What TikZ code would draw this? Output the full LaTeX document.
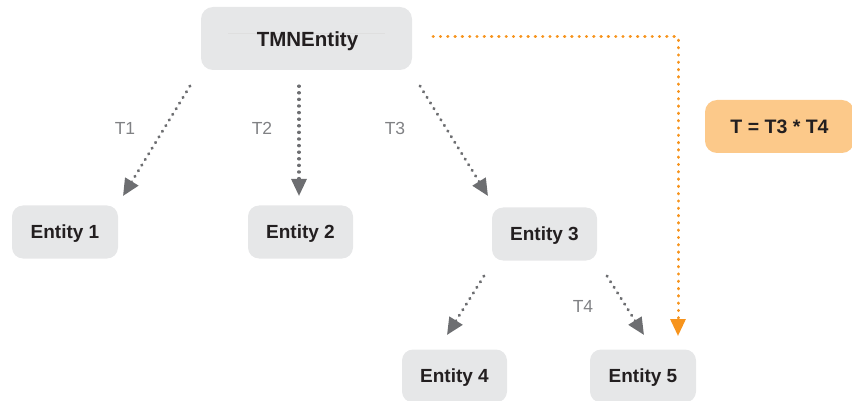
\documentclass[tikz,border=0pt]{standalone}
\usepackage{fontspec}
\setmainfont{Liberation Sans}
\usetikzlibrary{arrows.meta}
\definecolor{boxgray}{HTML}{E6E7E8}
\definecolor{arrgray}{HTML}{6D6E71}
\definecolor{txtdark}{HTML}{231F20}
\definecolor{lblgray}{HTML}{808184}
\definecolor{orangefill}{HTML}{FCC98A}
\definecolor{orangeline}{HTML}{F7941D}
\tikzset{
  entbox/.style={fill=boxgray, rounded corners=11pt, inner sep=0pt, text=txtdark,
    font=\fontsize{19}{20}\selectfont\bfseries, minimum height=53pt, text height=13.6pt, text depth=0pt},
  dotarrow/.style={draw=arrgray, line width=3.1pt, line cap=round, dash pattern=on 0.4pt off 6.2pt,
    -{Triangle[width=15pt,length=17pt,line cap=butt,fill=arrgray]}},
  orarrow/.style={draw=orangeline, line width=3pt, line cap=round, dash pattern=on 0.4pt off 6.9pt,
    -{Triangle[width=15pt,length=17pt,fill=orangeline]}},
  lbl/.style={text=lblgray, font=\fontsize{17.5}{20}\selectfont, inner sep=0pt}
}
\begin{document}
\begin{tikzpicture}[x=1pt,y=-1pt]
\useasboundingbox (0,0) rectangle (852,401);
% nodes
\node[entbox, minimum width=211pt, minimum height=63pt, rounded corners=12pt] (tmn) at (306.5,38.5) {};
\draw[gray!25, line width=0.5pt] (228,33) -- (385,33);
\node[text=txtdark, font=\fontsize{20.5}{22}\selectfont\bfseries, inner sep=0pt, text height=14.7pt, text depth=0pt] (tmntext) at (307.5,39) {TMNEntity};
\node[entbox, minimum width=106pt] (e1) at (65,232) {Entity 1};
\node[entbox, minimum width=105pt] (e2) at (300.5,232) {Entity 2};
\node[entbox, minimum width=105pt] (e3) at (544.5,234) {Entity 3};
\node[entbox, minimum width=105pt] (e4) at (454.5,376) {Entity 4};
\node[entbox, minimum width=106pt] (e5) at (643,376) {Entity 5};
\node[fill=orangefill, rounded corners=12pt, minimum width=149pt, minimum height=53pt, inner sep=0pt,
  text=txtdark, font=\fontsize{19.5}{20}\selectfont\bfseries, text height=14pt, text depth=0pt] (tt) at (779.5,126.5) {T = T3 * T4};
% coordinates
\coordinate (s1) at (190,86);
\coordinate (t1) at (123,196);
\coordinate (s2) at (299,86);
\coordinate (t2) at (299,196);
\coordinate (s3) at (420,86);
\coordinate (t3) at (488,196);
\coordinate (s4) at (484,276);
\coordinate (t4) at (447,335);
\coordinate (s5) at (607,276);
\coordinate (t5) at (644,335);
\coordinate (so) at (433,37);
\coordinate (co) at (678,37);
\coordinate (to) at (678,336);
% connectors
\draw[dotarrow] (s1) -- (t1);
\draw[dotarrow] (s2) -- (t2);
\draw[dotarrow] (s3) -- (t3);
\draw[dotarrow] (s4) -- (t4);
\draw[dotarrow] (s5) -- (t5);
\draw[orarrow] (so) -- (co) -- (to);
% labels
\node[lbl] (l1) at (125,128) {T1};
\node[lbl] (l2) at (262,128) {T2};
\node[lbl] (l3) at (395,128) {T3};
\node[lbl] (l4) at (583,306) {T4};
\end{tikzpicture}
\end{document}
